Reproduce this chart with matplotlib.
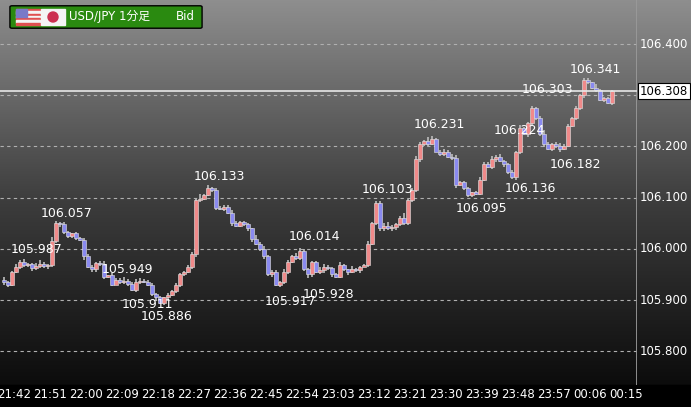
import matplotlib
matplotlib.use("Agg")
import matplotlib.pyplot as plt
import numpy as np
from matplotlib.patches import FancyBboxPatch, Rectangle, Ellipse
from matplotlib.colors import LinearSegmentedColormap

plt.rcParams['font.family'] = ['DejaVu Sans', 'Noto Sans CJK JP']

closes = [105.935,105.930,105.955,105.965,105.975,105.968,105.970,105.962,105.966,105.970,
          105.966,105.968,106.015,106.050,106.048,106.032,106.025,106.030,106.022,106.018,
          105.985,105.965,105.960,105.972,105.970,105.945,105.948,105.930,105.940,105.935,
          105.938,105.932,105.920,105.935,105.938,105.936,105.930,105.912,105.905,105.895,
          105.905,105.910,105.918,105.930,105.950,105.955,105.965,105.990,106.095,106.098,
          106.105,106.118,106.115,106.080,106.078,106.082,106.070,106.050,106.045,106.052,
          106.048,106.040,106.020,106.010,106.000,105.985,105.950,105.955,105.930,105.935,
          105.955,105.975,105.985,105.982,105.995,105.960,105.950,105.975,105.955,105.958,
          105.965,105.962,105.950,105.945,105.968,105.960,105.955,105.960,105.958,105.965,
          105.968,106.010,106.050,106.090,106.040,106.045,106.040,106.042,106.048,106.060,
          106.050,106.095,106.115,106.175,106.205,106.210,106.205,106.215,106.190,106.185,
          106.190,106.180,106.178,106.125,106.130,106.118,106.105,106.110,106.108,106.135,
          106.165,106.160,106.175,106.180,106.172,106.165,106.150,106.140,106.190,106.235,
          106.225,106.245,106.275,106.255,106.225,106.205,106.195,106.205,106.200,106.195,
          106.200,106.240,106.255,106.275,106.300,106.330,106.325,106.315,106.310,106.290,
          106.295,106.285,106.308]
first_open = 105.940
# wick extensions in thousandths
wick_up = "3214232145325323212123223413224224322212131221232614233224322214232232422543211432224114212322245323622432541232432221233342412314223135312432222221421122"
wick_dn = "4322322322232342323242332322123313222342322332234221332323222342332423232322532332322242231322342332222333321222342233222233242343242234232421122322312132"

labels = [(8.25,105.998,"105.987"),(15.75,106.068,"106.057"),(30.75,105.959,"105.949"),
          (35.75,105.892,"105.911"),(40.75,105.867,"105.886"),(53.75,106.142,"106.133"),
          (71.5,105.898,"105.917"),(77.5,106.025,"106.014"),(81.0,105.910,"105.928"),
          (95.75,106.115,"106.103"),(108.75,106.242,"106.231"),(119.25,106.078,"106.095"),
          (128.75,106.232,"106.224"),(131.5,106.117,"106.136"),(135.75,106.312,"106.303"),
          (142.75,106.164,"106.182"),(147.75,106.351,"106.341")]
time_labels = ["21:42","21:51","22:00","22:09","22:18","22:27","22:36","22:45","22:54",
               "23:03","23:12","23:21","23:30","23:39","23:48","23:57","00:06","00:15"]
price_ticks = [105.8,105.9,106.0,106.1,106.2,106.3,106.4]
current = 106.308

W, H = 691, 407
fig = plt.figure(figsize=(W/100, H/100), dpi=100)
bg = fig.add_axes([0, 0, 1, 1])
grad = np.linspace(0, 1, 256).reshape(-1, 1)
cm = LinearSegmentedColormap.from_list("g", ["#8e8e8e", "#3c3c3c", "#060606"])
bg.imshow(grad, aspect='auto', cmap=cm, extent=[0, 1, 0, 1], origin='upper')
bg.add_patch(Rectangle((0, 0), 1, 22/407, color='black', transform=bg.transAxes))
bg.set_xlim(0, 1); bg.set_ylim(0, 1)
bg.axis('off')

ax = fig.add_axes([0, 22/407, 637/691, 385/407])
ax.patch.set_alpha(0)
n = len(closes)
opens = [first_open] + closes[:-1]
ax.set_ylim(106.4 - (385-44)/512, 106.4 + 44/512)
ax.set_xlim(-1, 158.25)
for p in price_ticks:
    ax.axhline(p, color='#b0b0b0', lw=0.8, ls=(0, (3, 3)), zorder=1)
for i in range(n):
    o, c = opens[i], closes[i]
    hi = max(o, c) + int(wick_up[i]) * 0.0015
    lo = min(o, c) - int(wick_dn[i]) * 0.0015
    ax.vlines(i, lo, hi, color='#bdbdbd', lw=1.2, zorder=2)
    col = '#f08a8a' if c >= o else '#8a8af0'
    ax.add_patch(Rectangle((i - 0.42, min(o, c)), 0.84, max(abs(c - o), 0.0012),
                           facecolor=col, edgecolor='#e6e6e6', lw=0.4, zorder=3))
ax.axhline(current, color='#e8e8e8', lw=1.2, zorder=4)
for x, y, t in labels:
    ax.text(x, y, t, color='white', fontsize=9, ha='center', va='center', zorder=5)
ax.set_xticks([]); ax.set_yticks([])
for s in ax.spines.values():
    s.set_visible(False)
ax.axvline(158.25, color='#9a9a9a', lw=2)

def ypix(p):
    return 1 - (44 + (106.4 - p) * 512) / H
for p in price_ticks:
    if abs(p - current) < 0.02:
        continue
    fig.text(640/W, ypix(p), f"{p:.3f}", color='white', fontsize=8.5, va='center', ha='left')
fig.text(640/W, ypix(current), f"{current:.3f}", color='black', fontsize=8.5, va='center', ha='left',
         bbox=dict(boxstyle='square,pad=0.15', facecolor='white', edgecolor='black', lw=0.8))
for k, t in enumerate(time_labels):
    xi = 2.5 + 9 * k
    xp = (xi + 1) / 159.25 * 637
    fig.text(xp / W, 1 - 395/H, t, color='white', fontsize=8.5, ha='center', va='center')

bg.add_patch(FancyBboxPatch((12/W, 1 - 27/H), 188/W, 20/H, boxstyle='round,pad=0.003',
                            facecolor='#2a8a10', edgecolor='black', lw=1, transform=bg.transAxes))
for s in range(7):
    bg.add_patch(Rectangle((16/W, 1 - (9 + s * 2.3 + 2.3)/H), 24/W, 2.3/H,
                           color='#e05050' if s % 2 == 0 else '#f4f4f4', transform=bg.transAxes))
bg.add_patch(Rectangle((16/W, 1 - 17/H), 11/W, 8/H, color='#7a7ac8', transform=bg.transAxes))
bg.add_patch(Rectangle((41/W, 1 - 25/H), 24/W, 16/H, color='#f4f4f4', transform=bg.transAxes))
bg.add_patch(Ellipse((53/W, 1 - 17/H), 10/W, 10/H, color='#cc3050', transform=bg.transAxes))
fig.text(69/W, 1 - 16/H, "USD/JPY 1分足", color='white', fontsize=8.5, va='center', ha='left')
fig.text(195/W, 1 - 16/H, "Bid", color='white', fontsize=8.5, va='center', ha='right')

fig.savefig("out.png", dpi=100)
